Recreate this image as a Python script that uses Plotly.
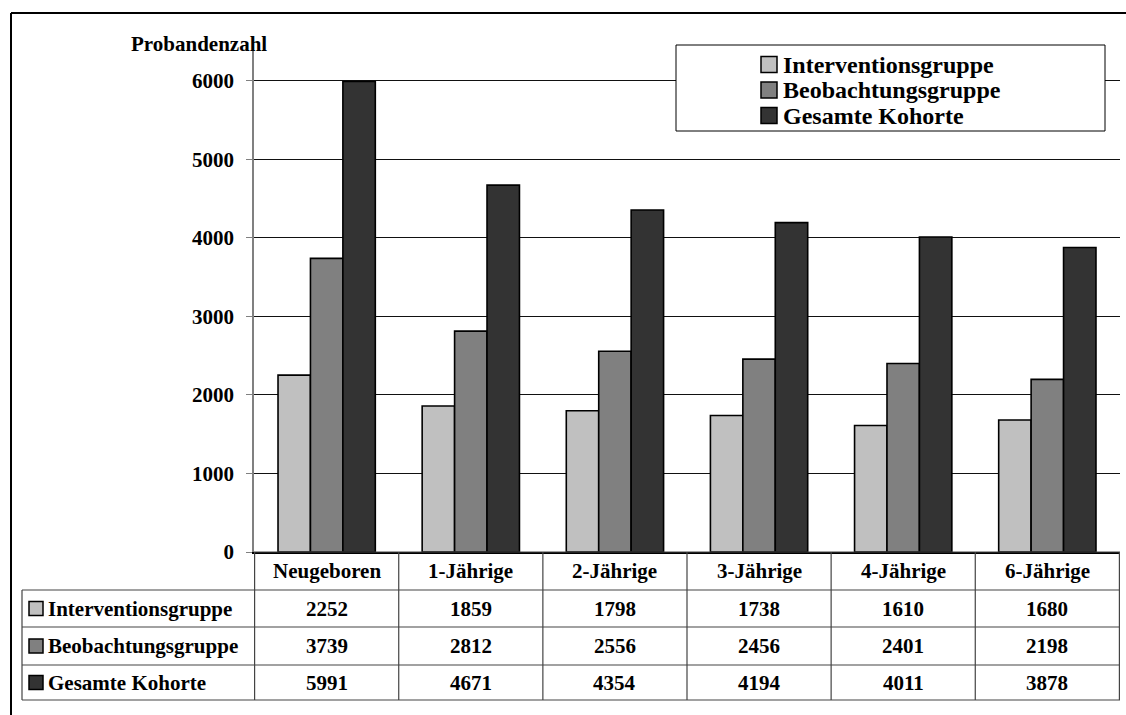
import plotly.graph_objects as go

categories = ["Neugeboren", "1-Jährige", "2-Jährige", "3-Jährige", "4-Jährige", "6-Jährige"]
series_names = ["Interventionsgruppe", "Beobachtungsgruppe", "Gesamte Kohorte"]
intervention = [2252, 1859, 1798, 1738, 1610, 1680]
beobachtung = [3739, 2812, 2556, 2456, 2401, 2198]
gesamt = [5991, 4671, 4354, 4194, 4011, 3878]
y_ticks = [0, 1000, 2000, 3000, 4000, 5000, 6000]
y_title = "Probandenzahl"

series_values = [intervention, beobachtung, gesamt]
colors = ["#C0C0C0", "#808080", "#333333"]

W, H = 1126, 715
ML, MR, MT, MB = 254, 6, 47, 163
PW, PH = W - ML - MR, H - MT - MB
FONT = "Liberation Serif"


def px(xp):
    return (xp - ML) / PW


def py(yp):
    return (H - MB - yp) / PH


fig = go.Figure()
for name, vals, col in zip(series_names, series_values, colors):
    fig.add_trace(go.Bar(
        x=categories, y=vals, name=name,
        marker=dict(color=col, line=dict(color="black", width=1.6)),
        showlegend=False,
    ))

shapes = []
annotations = []
tfont = dict(family=FONT, size=21, color="black", weight=700)

# outer frame (top and left)
shapes.append(dict(type="line", xref="paper", yref="paper", x0=px(11), x1=px(1130), y0=py(13), y1=py(13),
                   line=dict(color="black", width=2)))
shapes.append(dict(type="line", xref="paper", yref="paper", x0=px(11), x1=px(11), y0=py(13), y1=py(720),
                   line=dict(color="black", width=2)))

# table
row_bounds = [552, 590, 627, 665, 700]
line_col = "#444444"
for i, yb in enumerate(row_bounds):
    x0 = px(254) if i == 0 else px(22)
    shapes.append(dict(type="line", xref="paper", yref="paper", x0=x0, x1=1, y0=py(yb), y1=py(yb),
                       line=dict(color=line_col, width=1.2)))
shapes.append(dict(type="line", xref="paper", yref="paper", x0=px(22), x1=px(22), y0=py(590), y1=py(700),
                   line=dict(color=line_col, width=1.2)))
for k in range(len(categories) + 1):
    shapes.append(dict(type="line", xref="x", yref="paper", x0=k - 0.5, x1=k - 0.5, y0=py(552), y1=py(700),
                       line=dict(color=line_col, width=1.2)))

# header row
hc = (row_bounds[0] + row_bounds[1]) / 2
for k, c in enumerate(categories):
    annotations.append(dict(x=k, y=py(hc), xref="x", yref="paper", text=c, showarrow=False,
                            font=tfont, xanchor="center", yanchor="middle"))
# data rows
for r, (name, vals, col) in enumerate(zip(series_names, series_values, colors)):
    yc = (row_bounds[r + 1] + row_bounds[r + 2]) / 2
    for k, v in enumerate(vals):
        annotations.append(dict(x=k, y=py(yc), xref="x", yref="paper", text=str(v), showarrow=False,
                                font=tfont, xanchor="center", yanchor="middle"))
    shapes.append(dict(type="rect", xref="paper", yref="paper", x0=px(29), x1=px(43),
                       y0=py(yc + 7), y1=py(yc - 7), fillcolor=col, line=dict(color="black", width=1.5)))
    annotations.append(dict(x=px(46), y=py(yc), xref="paper", yref="paper", text=name, showarrow=False,
                            font=tfont, xanchor="left", yanchor="middle"))

# legend box
shapes.append(dict(type="rect", xref="paper", yref="paper", x0=px(676), x1=px(1105), y0=py(131), y1=py(45),
                   fillcolor="white", line=dict(color="black", width=1), layer="above"))
leg_centers = [64.5, 90, 115.5]
for name, col, yc in zip(series_names, colors, leg_centers):
    shapes.append(dict(type="rect", xref="paper", yref="paper", x0=px(761), x1=px(777),
                       y0=py(yc + 8), y1=py(yc - 8), fillcolor=col, line=dict(color="black", width=1.5),
                       layer="above"))
    annotations.append(dict(x=px(781), y=py(yc), xref="paper", yref="paper", text=name, showarrow=False,
                            font=dict(family=FONT, size=24, color="black", weight=700),
                            xanchor="left", yanchor="middle"))

# y title
annotations.append(dict(x=px(199), y=py(44), xref="paper", yref="paper", text=y_title, showarrow=False,
                        font=dict(family=FONT, size=21, color="black", weight=700),
                        xanchor="center", yanchor="middle"))

fig.update_layout(
    width=W, height=H,
    margin=dict(l=ML, r=MR, t=MT, b=MB, pad=0),
    paper_bgcolor="white", plot_bgcolor="white",
    barmode="group", bargap=0.325, bargroupgap=0,
    shapes=shapes, annotations=annotations,
    showlegend=False,
    xaxis=dict(showticklabels=False, showline=True, linecolor="black", linewidth=1.5,
               ticks="", showgrid=False, fixedrange=True),
    yaxis=dict(range=[0, 6430], tickvals=y_ticks, showline=True, linecolor="#808080", linewidth=1.5,
               ticks="outside", ticklen=6, tickcolor="#808080", ticklabelstandoff=8,
               tickfont=dict(family=FONT, size=21, color="black", weight=700),
               showgrid=True, gridcolor="#111111", gridwidth=1, zeroline=False),
)

fig.write_html("out.html", config={"displayModeBar": False},
               post_script="document.body.style.margin='0';")
